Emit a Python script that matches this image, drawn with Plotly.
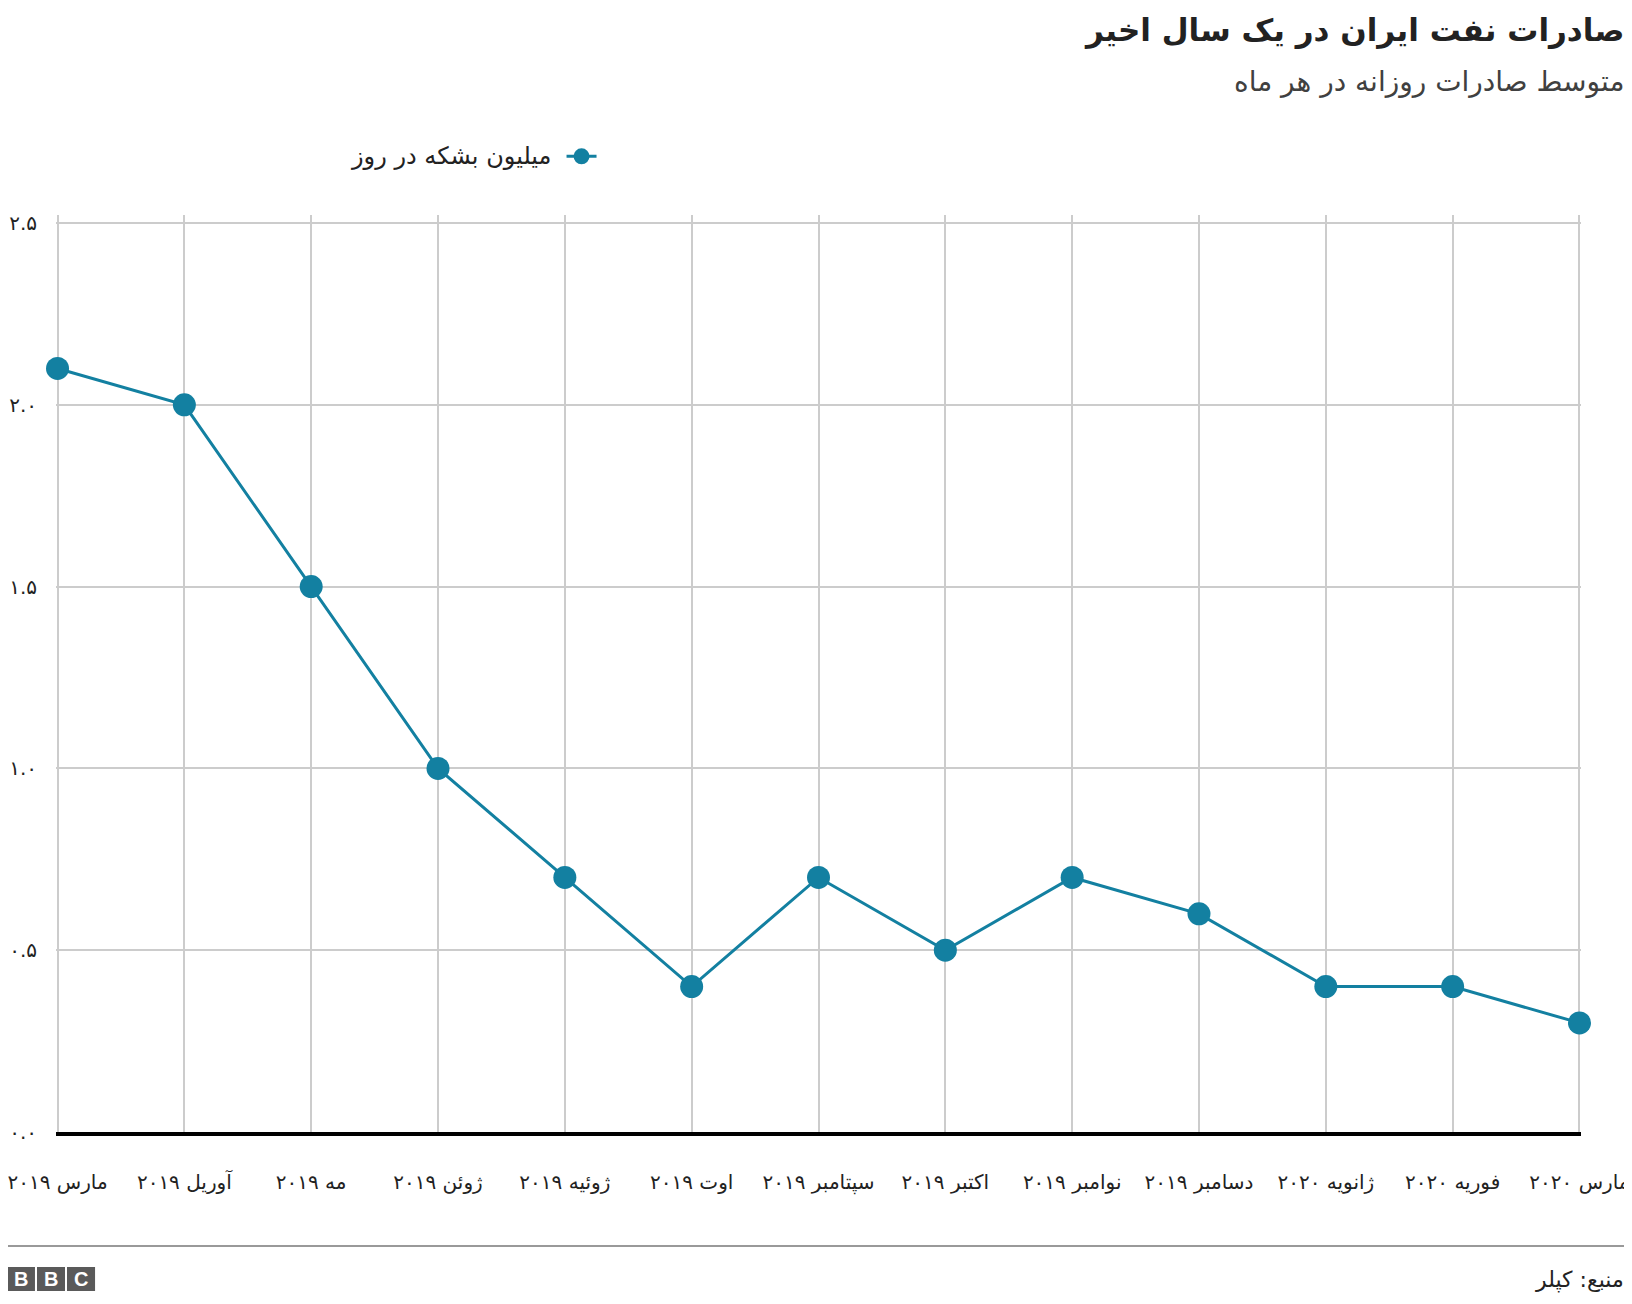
import plotly.graph_objects as go

# monthly average daily exports (million barrels/day)
months = ["مارس ۲۰۱۹", "آوریل ۲۰۱۹", "مه ۲۰۱۹", "ژوئن ۲۰۱۹", "ژوئیه ۲۰۱۹",
          "اوت ۲۰۱۹", "سپتامبر ۲۰۱۹", "اکتبر ۲۰۱۹", "نوامبر ۲۰۱۹",
          "دسامبر ۲۰۱۹", "ژانویه ۲۰۲۰", "فوریه ۲۰۲۰", "مارس ۲۰۲۰"]
exports = [2.1, 2.0, 1.5, 1.0, 0.7, 0.4, 0.7, 0.5, 0.7, 0.6, 0.4, 0.4, 0.3]

y_ticks = [0, 0.5, 1.0, 1.5, 2.0, 2.5]
y_labels = ["۰.۰", "۰.۵", "۱.۰", "۱.۵", "۲.۰", "۲.۵"]

title = "صادرات نفت ایران در یک سال اخیر"
subtitle = "متوسط صادرات روزانه در هر ماه"
series_name = "میلیون بشکه در روز"
source = "منبع: کپلر"

FONT = "DejaVu Sans"
TEAL = "#1380A1"

fig = go.Figure()

fig.add_trace(go.Scatter(
    x=months, y=exports, mode="lines+markers", name=" ",
    line=dict(color=TEAL, width=3),
    marker=dict(color=TEAL, size=23),
    cliponaxis=False, showlegend=True,
))

# page body adds an 8px offset, so the figure is 8px smaller than the window
fig.update_layout(
    width=1624, height=1296,
    margin=dict(l=48, r=51, t=207, b=172, autoexpand=False),
    paper_bgcolor="white", plot_bgcolor="white",
    font=dict(family=FONT, color="#222222"),
    showlegend=True,
    legend=dict(x=0.3315, y=1.064, xanchor="left", yanchor="middle",
                bgcolor="rgba(0,0,0,0)", font=dict(size=20)),
)

# small padding so the edge gridlines are not dropped
fig.update_xaxes(
    type="category", range=[-0.012, 12.012], automargin=False,
    showgrid=True, gridcolor="#cccccc", gridwidth=1.5,
    showline=True, linecolor="black", linewidth=4,
    ticks="", ticklabelstandoff=29,
    tickfont=dict(family=FONT, size=20, color="#222222"),
    zeroline=False,
)

fig.update_yaxes(
    range=[0, 2.522], automargin=False,
    tickvals=y_ticks, ticktext=y_labels,
    showgrid=True, gridcolor="#cccccc", gridwidth=1.5,
    zeroline=False, showline=False,
    ticks="", ticklabelstandoff=18,
    tickfont=dict(family=FONT, size=20, color="#222222"),
)

# title block, legend text and footer
fig.add_annotation(text="<b>" + title + "</b>", xref="paper", yref="paper",
                   x=1.0295, y=1.2007, xanchor="right", yanchor="middle",
                   showarrow=False, font=dict(family=FONT, size=31, color="#222222"))
fig.add_annotation(text=subtitle, xref="paper", yref="paper",
                   x=1.0295, y=1.146, xanchor="right", yanchor="middle",
                   showarrow=False, font=dict(family=FONT, size=28, color="#404040"))
fig.add_annotation(text=series_name, xref="paper", yref="paper",
                   x=0.326, y=1.064, xanchor="right", yanchor="middle",
                   showarrow=False, font=dict(family=FONT, size=24, color="#222222"))
fig.add_annotation(text=source, xref="paper", yref="paper",
                   x=1.0295, y=-0.161, xanchor="right", yanchor="middle",
                   showarrow=False, font=dict(family=FONT, size=22, color="#222222"))

fig.add_shape(type="line", xref="paper", yref="paper",
              x0=-0.1, x1=1.1, y0=-0.1243, y1=-0.1243,
              line=dict(color="#999999", width=2))

# BBC blocks
for i, letter in enumerate(["B", "B", "C"]):
    x0 = (8 + i * 30 - 57) / 1523
    x1 = (8 + i * 30 + 28 - 57) / 1523
    fig.add_shape(type="rect", xref="paper", yref="paper",
                  x0=x0, x1=x1, y0=(1132 - 1291) / 917, y1=(1132 - 1267) / 917,
                  fillcolor="#5a5a5a", line=dict(width=0))
    fig.add_annotation(text="<b>" + letter + "</b>", xref="paper", yref="paper",
                       x=(x0 + x1) / 2, y=(1132 - 1279) / 917,
                       xanchor="center", yanchor="middle", showarrow=False,
                       font=dict(family="Liberation Sans", size=20, color="white"))

fig.write_html("out.html")
